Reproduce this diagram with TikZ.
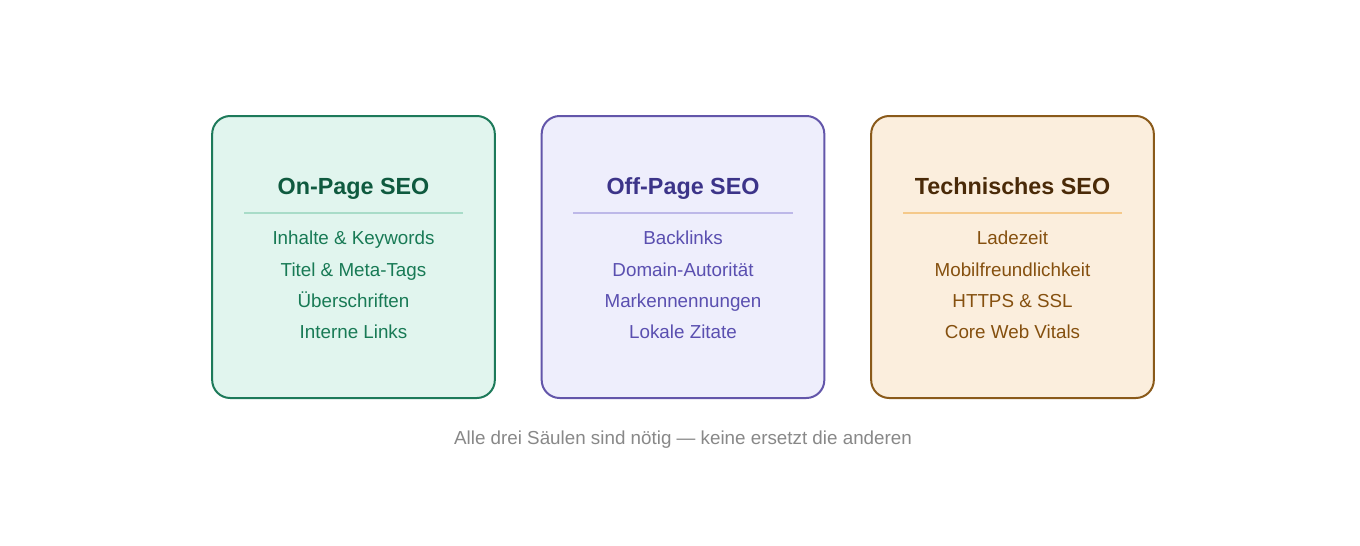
\documentclass[tikz,border=0pt]{standalone}
\usepackage{fontspec}
\setmainfont{Liberation Sans}
\definecolor{gfill}{HTML}{E1F5EE}\definecolor{gdraw}{HTML}{1D7A5A}\definecolor{gtitle}{HTML}{0F5A3F}\definecolor{gitem}{HTML}{187A55}\definecolor{gsepc}{HTML}{A8DCC8}
\definecolor{pfill}{HTML}{EEEEFC}\definecolor{pdraw}{HTML}{6356AA}\definecolor{ptitlec}{HTML}{3C3489}\definecolor{pitemc}{HTML}{5A4FB0}\definecolor{psepc}{HTML}{BDB8E8}
\definecolor{ofill}{HTML}{FBEEDD}\definecolor{odraw}{HTML}{8A5A1A}\definecolor{otitle}{HTML}{4A2A08}\definecolor{oitem}{HTML}{85500F}\definecolor{osepc}{HTML}{F5C98A}
\definecolor{capgray}{HTML}{888888}
\tikzset{
  pillar/.style={draw, line width=1.5pt, rounded corners=13.5pt, minimum width=212pt, minimum height=211.5pt, inner sep=0pt},
  ptitle/.style={font=\fontsize{17.5pt}{20pt}\selectfont\bfseries, anchor=center, inner sep=0pt, text height=12.5pt, text depth=0pt},
  pitem/.style={font=\fontsize{14.1pt}{16pt}\selectfont, anchor=center, inner sep=0pt, text height=10.1pt, text depth=0pt},
  sepline/.style={line width=0.9pt},
}
\begin{document}
\begin{tikzpicture}[x=0.75pt,y=-0.75pt]
\useasboundingbox (0,0) rectangle (1360,546);
\fill[white] (0,0) rectangle (1360,546);
% pillar 1
\node[pillar, draw=gdraw, fill=gfill] (b1) at (353.5,257) {};
\node[ptitle, text=gtitle] (t1) at (353.5,186) {On-Page SEO};
\draw[sepline, gsepc] (244,213) coordinate (s1a) -- (463,213) coordinate (s1b);
\node[pitem, text=gitem] (i11) at (353.5,238) {Inhalte \& Keywords};
\node[pitem, text=gitem] (i12) at (353.5,269.5) {Titel \& Meta-Tags};
\node[pitem, text=gitem] (i13) at (353.5,300.5) {Überschriften};
\node[pitem, text=gitem] (i14) at (353.5,332) {Interne Links};
% pillar 2
\node[pillar, draw=pdraw, fill=pfill] (b2) at (683,257) {};
\node[ptitle, text=ptitlec] (t2) at (683,186) {Off-Page SEO};
\draw[sepline, psepc] (573,213) coordinate (s2a) -- (793,213) coordinate (s2b);
\node[pitem, text=pitemc] (i21) at (683,238) {Backlinks};
\node[pitem, text=pitemc] (i22) at (683,269.5) {Domain-Autorität};
\node[pitem, text=pitemc] (i23) at (683,300.5) {Markennennungen};
\node[pitem, text=pitemc] (i24) at (683,332) {Lokale Zitate};
% pillar 3
\node[pillar, draw=odraw, fill=ofill] (b3) at (1012.5,257) {};
\node[ptitle, text=otitle] (t3) at (1012.5,186) {Technisches SEO};
\draw[sepline, osepc] (903,213) coordinate (s3a) -- (1122,213) coordinate (s3b);
\node[pitem, text=oitem] (i31) at (1012.5,238) {Ladezeit};
\node[pitem, text=oitem] (i32) at (1012.5,269.5) {Mobilfreundlichkeit};
\node[pitem, text=oitem] (i33) at (1012.5,300.5) {HTTPS \& SSL};
\node[pitem, text=oitem] (i34) at (1012.5,332) {Core Web Vitals};
% caption
\node[pitem, text=capgray] (cap) at (683,438) {Alle drei Säulen sind nötig — keine ersetzt die anderen};
\end{tikzpicture}
\end{document}
